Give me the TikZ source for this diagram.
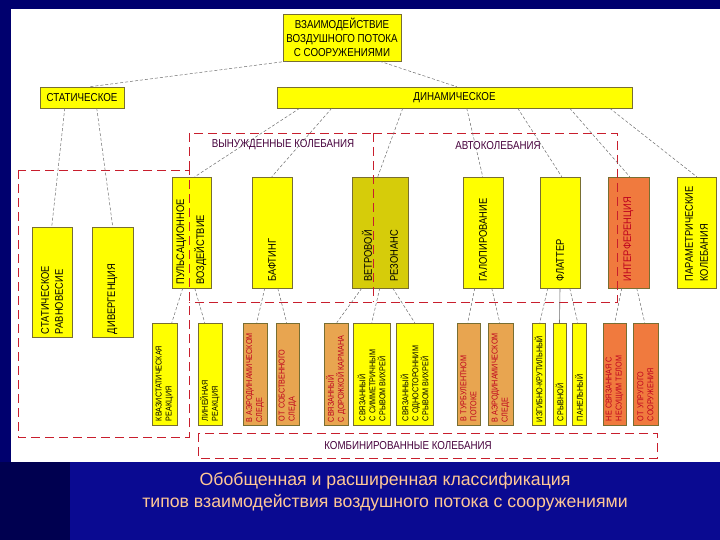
\documentclass[tikz,border=0pt]{standalone}
\usepackage{fontspec}
\setmainfont{Liberation Sans}
\newfontfamily\cond[FakeStretch=0.85]{Liberation Sans}
\usepackage{graphicx}
\usetikzlibrary{calc}
\definecolor{navy}{RGB}{0,0,110}
\definecolor{navyb}{RGB}{10,10,145}
\definecolor{navyd}{RGB}{0,0,80}
\definecolor{yel}{RGB}{255,255,0}
\definecolor{olv}{RGB}{214,204,10}
\definecolor{tan}{RGB}{232,165,80}
\definecolor{org}{RGB}{240,122,62}
\definecolor{boxline}{RGB}{120,110,50}
\definecolor{redd}{RGB}{200,30,45}
\definecolor{redtext}{RGB}{190,0,30}
\definecolor{conncol}{RGB}{110,110,110}
\definecolor{grpcol}{RGB}{70,0,60}
\definecolor{capcol}{RGB}{255,200,150}
\newcommand\vt[2]{\rotatebox{90}{\parbox{#1}{\raggedright #2}}}
\newcommand\cn[4]{\draw[conn] ($(#1.south west)+(#2,0)$) -- ($(#3.north west)+(#4,0)$);}
\tikzset{
  box/.style={draw=boxline, line width=0.5pt, inner sep=0pt, text=black},
  hbox/.style={box, fill=yel, font=\cond\fontsize{11.5}{14}\selectfont, align=center},
  topf/.style={box, font=\cond\fontsize{11}{13}\selectfont, minimum height=111pt},
  stf/.style={box, font=\cond\fontsize{11}{13}\selectfont, minimum height=110pt},
  botf/.style={box, font=\cond\fontsize{8.5}{10}\selectfont, minimum height=102pt},
  conn/.style={draw=conncol, line width=0.5pt, dash pattern=on 3pt off 2pt},
  redline/.style={draw=redd, line width=0.8pt, dash pattern=on 9pt off 5pt},
  grp/.style={text=grpcol, font=\cond\fontsize{11.5}{14}\selectfont}
}
\begin{document}
\begin{tikzpicture}[x=1pt,y=-1pt]
\useasboundingbox (0,0) rectangle (720,540);
\fill[navy] (0,0) rectangle (720,540);
\fill[navyb] (70,462) rectangle (720,540);
\fill[navyd] (0,462) rectangle (70,540);
\fill[white] (11,9) rectangle (720,462);

% top level
\node[hbox, minimum width=118pt, minimum height=47pt] (top) at (342,37.5)
  {ВЗАИМОДЕЙСТВИЕ\\ВОЗДУШНОГО ПОТОКА\\С СООРУЖЕНИЯМИ};
\node[hbox, minimum width=84pt, minimum height=21pt] (stat) at (82,97.5) {СТАТИЧЕСКОЕ};
\node[hbox, minimum width=355pt, minimum height=21pt] (dyn) at (454.5,97.5) {ДИНАМИЧЕСКОЕ};

% first row
\node[topf, fill=yel, minimum width=39pt] (pul) at (191.5,232.5) {\vt{104pt}{ПУЛЬСАЦИОННОЕ\\[7pt]ВОЗДЕЙСТВИЕ}};
\node[topf, fill=yel, minimum width=40pt] (buf) at (272,232.5) {\vt{98pt}{БАФТИНГ}};
\node[topf, fill=olv, minimum width=56pt] (vet) at (380,232.5) {\vt{98pt}{ВЕТРОВОЙ\\[13pt]РЕЗОНАНС}};
\node[topf, fill=yel, minimum width=40pt] (gal) at (483,232.5) {\vt{98pt}{ГАЛОПИРОВАНИЕ}};
\node[topf, fill=yel, minimum width=40pt] (fla) at (560,232.5) {\vt{98pt}{ФЛАТТЕР}};
\node[topf, fill=org, text=redtext, minimum width=41pt] (int) at (628.5,232.5) {\vt{98pt}{ИНТЕРФЕРЕНЦИЯ}};
\node[topf, fill=yel, minimum width=39pt] (par) at (696.5,232.5) {\vt{98pt}{ПАРАМЕТРИЧЕСКИЕ\\[2pt]КОЛЕБАНИЯ}};

% static row
\node[stf, fill=yel, minimum width=40pt] (sr) at (52,282) {\vt{104pt}{СТАТИЧЕСКОЕ\\[1pt]РАВНОВЕСИЕ}};
\node[stf, fill=yel, minimum width=41pt] (div) at (112.5,282) {\vt{104pt}{ДИВЕРГЕНЦИЯ}};

% bottom row
\node[botf, fill=yel, minimum width=25pt] (kva) at (164.5,374) {\vt{94pt}{КВАЗИСТАТИЧЕСКАЯ\\РЕАКЦИЯ}};
\node[botf, fill=yel, minimum width=24pt] (lin) at (210,374) {\vt{94pt}{ЛИНЕЙНАЯ\\РЕАКЦИЯ}};
\node[botf, fill=tan, text=redtext, minimum width=24pt] (aer1) at (255,374) {\vt{96pt}{В АЭРОДИНАМИЧЕСКОМ\\СЛЕДЕ}};
\node[botf, fill=tan, text=redtext, minimum width=23pt] (sob) at (287.5,374) {\vt{94pt}{ОТ СОБСТВЕННОГО\\СЛЕДА}};
\node[botf, fill=tan, text=redtext, minimum width=24pt] (kar) at (336,374) {\vt{96pt}{СВЯЗАННЫЙ\\С ДОРОЖКОЙ КАРМАНА}};
\node[botf, fill=yel, minimum width=37pt] (sim) at (371.5,374) {\vt{94pt}{СВЯЗАННЫЙ\\С СИММЕТРИЧНЫМ\\СРЫВОМ ВИХРЕЙ}};
\node[botf, fill=yel, minimum width=37pt] (odn) at (414.5,374) {\vt{94pt}{СВЯЗАННЫЙ\\С ОДНОСТОРОННИМ\\СРЫВОМ ВИХРЕЙ}};
\node[botf, fill=tan, text=redtext, minimum width=23pt] (tur) at (468.5,374) {\vt{94pt}{В ТУРБУЛЕНТНОМ\\ПОТОКЕ}};
\node[botf, fill=tan, text=redtext, minimum width=25pt] (aer2) at (500.5,374) {\vt{96pt}{В АЭРОДИНАМИЧЕСКОМ\\СЛЕДЕ}};
\node[botf, fill=yel, minimum width=13pt] (izg) at (538.5,374) {\vt{96pt}{ИЗГИБНО-КРУТИЛЬНЫЙ}};
\node[botf, fill=yel, minimum width=13pt] (sry) at (559.5,374) {\vt{94pt}{СРЫВНОЙ}};
\node[botf, fill=yel, minimum width=14pt] (pan) at (579,374) {\vt{94pt}{ПАНЕЛЬНЫЙ}};
\node[botf, fill=org, text=redtext, minimum width=23pt] (nes) at (614.5,374) {\vt{94pt}{НЕ СВЯЗАННАЯ С\\НЕСУЩИМ ТЕЛОМ}};
\node[botf, fill=org, text=redtext, minimum width=25pt] (upr) at (645.5,374) {\vt{94pt}{ОТ УПРУГОГО\\СООРУЖЕНИЯ}};

% group frames (dashed red)
\draw[redline] (18,170) rectangle (189,437);
\draw[redline] (189,170) -- (189,133) -- (373,133);
\draw[redline] (373,133) -- (617,133) -- (617,302) -- (189,302);
\draw[redline] (373,133) -- (373,302);
\draw[redline] (198,433) rectangle (657,458);
\node[grp] (lforced) at (283,145) {ВЫНУЖДЕННЫЕ КОЛЕБАНИЯ};
\node[grp] (lauto) at (498,146) {АВТОКОЛЕБАНИЯ};
\node[grp] (lcomb) at (408,445.5) {КОМБИНИРОВАННЫЕ КОЛЕБАНИЯ};

% connectors
\cn{top}{4}{stat}{50}
\cn{top}{97}{dyn}{180}
\cn{stat}{25}{sr}{20}
\cn{stat}{57}{div}{21}
\cn{dyn}{23}{pul}{23}
\cn{dyn}{55}{buf}{20}
\cn{dyn}{126}{vet}{26}
\cn{dyn}{190}{gal}{20}
\cn{dyn}{241}{fla}{22}
\cn{dyn}{293}{int}{22}
\cn{dyn}{333}{par}{20}
\cn{pul}{11}{kva}{20}
\cn{pul}{23}{lin}{7}
\cn{buf}{13}{aer1}{14}
\cn{buf}{26}{sob}{11}
\cn{vet}{10}{kar}{13}
\cn{vet}{28}{sim}{19}
\cn{vet}{41}{odn}{19}
\cn{gal}{12}{tur}{11}
\cn{gal}{29}{aer2}{12}
\cn{fla}{8}{izg}{8}
\draw[draw=conncol, line width=0.6pt] (fla.south) -- (sry.north);
\cn{fla}{30}{pan}{6}
\cn{int}{14}{nes}{12}
\cn{int}{29}{upr}{12}

% caption
\node[font=\fontsize{17.7}{22}\selectfont, text=capcol, align=center] (cap) at (385,492)
  {Обобщенная и расширенная классификация\\типов взаимодействия воздушного потока с сооружениями};
\end{tikzpicture}
\end{document}
